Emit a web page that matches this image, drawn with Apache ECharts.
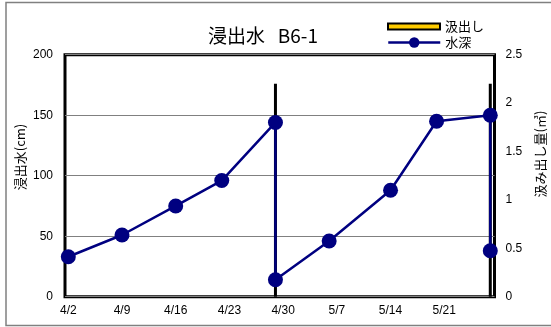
<!DOCTYPE html>
<html>
<head>
<meta charset="utf-8">
<script src="https://cdn.jsdelivr.net/npm/echarts@6/dist/echarts.min.js"></script>
<style>
  html, body { margin: 0; padding: 0; background: #fff; }
  #chart { width: 551px; height: 327px; }
</style>
</head>
<body>
<div id="chart"></div>
<script>
// Water depth survey dates (M/D) and readings in cm
const depthDates = ['4/2', '4/9', '4/16', '4/22', '4/29', '4/29', '5/6', '5/14', '5/20', '5/27', '5/27'];
const depthValues = [33, 51, 75, 96, 144, 14, 46, 88, 145, 150, 38];

// Pump-out events and volumes (m3)
const pumpDates = ['4/29', '5/27'];
const pumpValues = [2.2, 2.2];

// Date tick labels on the horizontal axis
const xTickLabels = ['4/2', '4/9', '4/16', '4/23', '4/30', '5/7', '5/14', '5/21'];

// Day offset from 4/2
function dayOf(md) {
  const [m, d] = md.split('/').map(Number);
  return (Date.UTC(2000, m - 1, d) - Date.UTC(2000, 3, 2)) / 86400000;
}

const FONT = '"Liberation Sans", "Noto Sans CJK JP", sans-serif';
const CJK = '"Noto Sans CJK JP", "Liberation Sans", sans-serif';

const chart = echarts.init(document.getElementById('chart'));
chart.setOption({
  backgroundColor: '#fff',
  animation: false,
  title: {
    text: '浸出水   B6-1',
    left: 203,
    top: 21,
    textStyle: { fontFamily: CJK, fontSize: 19, fontWeight: 'normal', color: '#000' }
  },
  legend: [
    {
      data: ['汲出し'],
      left: 382,
      top: 15,
      icon: 'rect',
      itemWidth: 52,
      itemHeight: 6,
      textStyle: { fontFamily: CJK, fontSize: 13, color: '#000' }
    },
    {
      data: ['水深'],
      left: 382,
      top: 31,
      itemWidth: 52,
      itemHeight: 13,
      lineStyle: { width: 2.5 },
      textStyle: { fontFamily: CJK, fontSize: 13, color: '#000' }
    }
  ],
  grid: {
    left: 65,
    right: 56.5,
    top: 54.7,
    bottom: 30.3,
    show: true,
    borderColor: '#000',
    borderWidth: 3,
    backgroundColor: 'transparent'
  },
  xAxis: {
    type: 'value',
    min: -0.43,
    max: 55.55,
    axisLine: { show: false },
    axisTick: { show: false },
    splitLine: { show: false },
    axisLabel: {
      customValues: xTickLabels.map(dayOf),
      formatter: v => xTickLabels.find(l => dayOf(l) === v) || '',
      margin: 8,
      fontFamily: FONT,
      fontSize: 12,
      color: '#000'
    }
  },
  yAxis: [
    {
      type: 'value',
      min: 0,
      max: 200,
      interval: 50,
      axisLine: { show: false },
      axisTick: { show: false },
      splitLine: { show: true, lineStyle: { color: '#808080', width: 1 } },
      axisLabel: { margin: 12, fontFamily: FONT, fontSize: 12, color: '#000' }
    },
    {
      type: 'value',
      min: 0,
      max: 2.5,
      interval: 0.5,
      position: 'right',
      axisLine: { show: false },
      axisTick: { show: false },
      splitLine: { show: false },
      axisLabel: { margin: 11, fontFamily: FONT, fontSize: 12, color: '#000' }
    }
  ],
  series: [
    {
      name: '汲出し',
      type: 'bar',
      yAxisIndex: 1,
      barWidth: 3,
      itemStyle: { color: '#FFCC00', borderColor: '#000', borderWidth: 2 },
      z: 2,
      data: pumpDates.map((d, i) => [dayOf(d), pumpValues[i]])
    },
    {
      name: '水深',
      type: 'line',
      yAxisIndex: 0,
      symbol: 'circle',
      symbolSize: 15,
      lineStyle: { color: '#000080', width: 2.5 },
      itemStyle: { color: '#000080' },
      z: 3,
      data: depthDates.map((d, i) => [dayOf(d), depthValues[i]])
    }
  ],
  graphic: [
    {
      type: 'rect',
      shape: { x: 6, y: 2.5, width: 600, height: 323 },
      style: { fill: 'none', stroke: '#808080', lineWidth: 1.5 },
      silent: true,
      z: -1
    },
    {
      type: 'text',
      x: 20,
      y: 157,
      rotation: Math.PI / 2,
      style: {
        text: '浸出水(cm)',
        font: '13px ' + CJK,
        fill: '#000',
        align: 'center',
        verticalAlign: 'middle'
      }
    },
    {
      type: 'text',
      x: 540,
      y: 154,
      rotation: Math.PI / 2,
      style: {
        text: '汲み出し量(㎥)',
        font: '13px ' + CJK,
        fill: '#000',
        align: 'center',
        verticalAlign: 'middle'
      }
    }
  ]
});
</script>
</body>
</html>
